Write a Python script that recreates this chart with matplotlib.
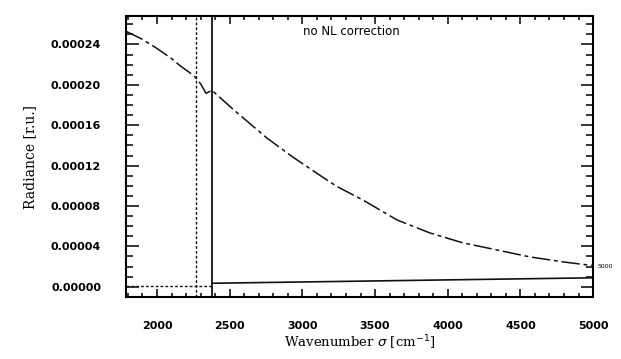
import numpy as np
import matplotlib
matplotlib.use("Agg")
import matplotlib.pyplot as plt
from matplotlib.ticker import MultipleLocator, FormatStrFormatter

# radiance curve
wn = [1787, 1900, 2000, 2100, 2158, 2254, 2300, 2337, 2378, 2523, 2757, 2935,
      3190, 3245, 3417, 3651, 3878, 4105, 4338, 4565, 4792, 4957, 5000]
rad = [0.000253, 0.000245, 0.000236, 0.000226, 0.000219, 0.000209, 0.000201,
       0.0001916, 0.0001946, 0.0001758, 0.0001472, 0.0001284, 0.0001037,
       0.0000988, 0.0000859, 0.0000662, 0.0000533, 0.0000435, 0.0000365,
       0.0000296, 0.0000247, 0.0000217, 0.0000213]

# baselines
base_dot_x = [1787, 2380]
base_dot_y = [0.000001, 0.000001]
base_sol_x = [2380, 5000]
base_sol_y = [0.0000035, 0.0000089]

# vertical markers
v_dotted = 2270
v_solid = 2380

fig = plt.figure(figsize=(6.21, 3.59), dpi=100)
ax = fig.add_axes([0.203, 0.173, 0.752, 0.782])

ax.plot(wn, rad, color="#111111", lw=1.1, linestyle=(0, (12, 2.5, 2.5, 2.5)))
ax.plot(base_dot_x, base_dot_y, color="#111111", lw=1.0, linestyle=(0, (2, 1.5)))
ax.plot(base_sol_x, base_sol_y, color="#111111", lw=1.2)
ax.axvline(v_dotted, color="#111111", lw=1.0, linestyle=(0, (2, 1.5)))
ax.axvline(v_solid, color="#111111", lw=1.3)

ax.set_xlim(1787, 5000)
ax.set_ylim(-0.00001, 0.000268)

ax.xaxis.set_major_locator(MultipleLocator(500))
ax.xaxis.set_minor_locator(MultipleLocator(100))
ax.yaxis.set_major_locator(MultipleLocator(0.00004))
ax.yaxis.set_minor_locator(MultipleLocator(0.00001))
ax.yaxis.set_major_formatter(FormatStrFormatter("%.5f"))

ax.tick_params(which="both", direction="in", top=True, right=True, width=1.1)
ax.tick_params(axis="y", which="major", length=9, pad=18, labelsize=8)
ax.tick_params(axis="y", which="minor", length=5)
ax.tick_params(axis="x", which="major", length=6, pad=17, labelsize=8)
ax.tick_params(axis="x", which="minor", length=3)
for lab in ax.get_xticklabels() + ax.get_yticklabels():
    lab.set_fontweight("bold")

for s in ax.spines.values():
    s.set_linewidth(1.5)

ax.set_ylabel("Radiance [r.u.]", family="DejaVu Serif", fontsize=10, labelpad=10)
ax.set_xlabel(r"Wavenumber $\sigma$ [cm$^{-1}$]", family="DejaVu Serif",
              fontsize=9.5, labelpad=2)

ax.text(0.379, 0.945, "no NL correction", transform=ax.transAxes, fontsize=8.5,
        ha="left", va="center")
ax.text(1.01, 0.11, "5000", transform=ax.transAxes, fontsize=4.5,
        ha="left", va="center")

fig.savefig("out.png", dpi=100)
